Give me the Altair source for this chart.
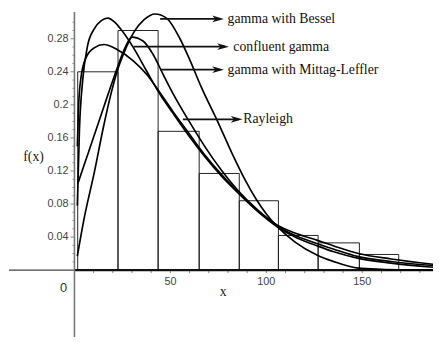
import altair as alt
import pandas as pd

# ---------------- data ----------------
# histogram (bin edges along x, bar heights)
bin_left = [1.7, 22.7, 43.6, 65.0, 85.9, 106.3, 127.0, 148.5]
bin_right = [22.7, 43.6, 65.0, 85.9, 106.3, 127.0, 148.5, 169.0]
bin_height = [0.240, 0.290, 0.168, 0.117, 0.084, 0.042, 0.033, 0.019]

# gamma with Bessel (tall early peak)
bessel_x = [1.5, 2.6, 4.3, 6.8, 10.3, 14.0, 17.4, 21.0, 24.0, 30.8, 37.6, 44.5, 51.3,
            59.8, 68.4, 76.9, 85.0, 95.0, 106.0, 116.0, 126.6, 135.2, 148.0, 165.0, 187.0]
bessel_y = [0.078, 0.170, 0.230, 0.271, 0.292, 0.302, 0.305, 0.300, 0.292, 0.269, 0.241,
            0.213, 0.190, 0.162, 0.136, 0.113, 0.094, 0.072, 0.052, 0.039, 0.0293, 0.0222,
            0.0143, 0.0085, 0.0035]

# gamma with Mittag-Leffler (lower early peak)
mittag_x = [1.5, 2.2, 3.4, 6.0, 10.3, 15.4, 22.2, 30.8, 37.6, 44.5, 51.3, 59.8, 68.4,
            76.9, 85.0, 95.0, 106.0, 116.0, 126.6, 135.2, 148.0, 165.0, 187.0]
mittag_y = [0.150, 0.200, 0.233, 0.257, 0.269, 0.273, 0.267, 0.253, 0.237, 0.215, 0.192,
            0.165, 0.138, 0.115, 0.095, 0.073, 0.053, 0.041, 0.032, 0.0253, 0.0163,
            0.0105, 0.0056]

# confluent gamma
confluent_x = [1.8, 5.0, 10.0, 15.5, 22.2, 25.6, 29.9, 35.9, 41.0, 46.2, 51.3, 59.8, 68.4,
               76.9, 85.0, 95.0, 106.0, 116.0, 126.6, 135.2, 148.0, 165.0, 187.0]
confluent_y = [0.105, 0.127, 0.161, 0.199, 0.244, 0.265, 0.282, 0.277, 0.261, 0.237, 0.214,
               0.180, 0.148, 0.120, 0.097, 0.074, 0.054, 0.044, 0.036, 0.0293, 0.0202,
               0.0135, 0.0071]

# Rayleigh
rayleigh_x = [1.5, 5.0, 10.6, 15.0, 19.0, 22.6, 26.0, 31.0, 36.3, 42.0, 48.0, 55.0, 60.0,
              66.0, 75.0, 82.0, 89.0, 94.4, 100.0, 106.0, 115.0, 126.6, 135.2, 148.0,
              160.0, 175.0, 187.0]
rayleigh_y = [0.017, 0.062, 0.121, 0.172, 0.213, 0.243, 0.264, 0.288, 0.303, 0.310, 0.305,
              0.280, 0.255, 0.222, 0.178, 0.142, 0.109, 0.087, 0.068, 0.052, 0.034, 0.018,
              0.0103, 0.0024, 0.001, 0.0003, 0.0]

# annotations
ann_labels = ["gamma with Bessel", "confluent gamma", "gamma with Mittag-Leffler", "Rayleigh"]
ann_y = [0.304, 0.2704, 0.2426, 0.1825]
ann_start = [44.65, 30.84, 44.65, 56.5]
ann_tip = [77.9, 80.5, 77.9, 87.6]
ann_text_x = [79.8, 82.8, 79.8, 88.0]

# axis ticks
y_ticks = [0.04, 0.08, 0.12, 0.16, 0.2, 0.24, 0.28]
y_tick_labels = ["0.04", "0.08", "0.12", "0.16", "0.2", "0.24", "0.28"]
x_ticks = [50, 100, 150]
x_tick_labels = ["50", "100", "150"]

# ---------------- scales ----------------
X_MIN, X_MAX = -34.63, 186.86
Y_MIN, Y_MAX = -0.0808, 0.3135
W, H = 433, 332
PX_X = W / (X_MAX - X_MIN)   # pixels per x unit
PX_Y = H / (Y_MAX - Y_MIN)   # pixels per y unit

xs = alt.Scale(domain=[X_MIN, X_MAX], nice=False, zero=False)
ys = alt.Scale(domain=[Y_MIN, Y_MAX], nice=False, zero=False)


def X(f):
    return alt.X(f, type="quantitative", scale=xs, axis=None)


def Y(f):
    return alt.Y(f, type="quantitative", scale=ys, axis=None)


# ---------------- layers ----------------
bars_df = pd.DataFrame({"x0": bin_left, "x1": bin_right, "h": bin_height,
                        "z": [0.0] * len(bin_height)})
bars = alt.Chart(bars_df).mark_rect(fillOpacity=0, stroke="#222", strokeWidth=1).encode(
    x=X("x0"), x2="x1", y=Y("h"), y2="z")

rows = []
for name, cx, cy in [("gamma with Bessel", bessel_x, bessel_y),
                     ("gamma with Mittag-Leffler", mittag_x, mittag_y),
                     ("confluent gamma", confluent_x, confluent_y),
                     ("Rayleigh", rayleigh_x, rayleigh_y)]:
    for i, (a, b) in enumerate(zip(cx, cy)):
        rows.append({"name": name, "x": a, "y": b, "i": i})
curves_df = pd.DataFrame(rows)
curves = alt.Chart(curves_df).mark_line(
    color="black", strokeWidth=1.7, interpolate="monotone", clip=True).encode(
    x=X("x"), y=Y("y"), detail="name:N", order="i:Q")

# axis lines
axes_df = pd.DataFrame([
    {"x": X_MIN + 0.5, "x2": 0.0, "y": 0.0, "y2": 0.0, "w": 1.2, "c": "#444"},
    {"x": 0.0, "x2": X_MAX, "y": 0.0, "y2": 0.0, "w": 2.2, "c": "#111"},
    {"x": 0.0, "x2": 0.0, "y": Y_MIN, "y2": 0.3125, "w": 1.6, "c": "#777"},
])
axes = alt.Chart(axes_df).mark_rule().encode(
    x=X("x"), x2="x2", y=Y("y"), y2="y2",
    strokeWidth=alt.StrokeWidth("w:Q", scale=None),
    color=alt.Color("c:N", scale=None))

# tick marks
tick_rows = []
for v in y_ticks:
    tick_rows.append({"x": -4 / PX_X, "x2": 0.0, "y": v, "y2": v})
minor_y = [k / 100 for k in range(1, 31) if round(k / 100, 2) not in y_ticks]
for v in minor_y:
    tick_rows.append({"x": -2 / PX_X, "x2": 0.0, "y": v, "y2": v})
for v in range(10, 190, 10):
    tick_rows.append({"x": float(v), "x2": float(v), "y": 0.0, "y2": -3 / PX_Y})
ticks = alt.Chart(pd.DataFrame(tick_rows)).mark_rule(color="#888", strokeWidth=1).encode(
    x=X("x"), x2="x2", y=Y("y"), y2="y2")

ylab_df = pd.DataFrame({"x": [0.0] * len(y_ticks), "y": y_ticks, "t": y_tick_labels})
ylabels = alt.Chart(ylab_df).mark_text(
    align="right", baseline="middle", dx=-6, font="Liberation Sans", fontSize=11,
    color="#444").encode(x=X("x"), y=Y("y"), text="t:N")

xlab_df = pd.DataFrame({"x": x_ticks, "y": [0.0] * len(x_ticks), "t": x_tick_labels})
xlabels = alt.Chart(xlab_df).mark_text(
    align="center", baseline="middle", dy=12, font="Liberation Sans", fontSize=11,
    color="#444").encode(x=X("x"), y=Y("y"), text="t:N")

zero_df = pd.DataFrame({"x": [0.0], "y": [0.0], "t": ["0"]})
zero_lab = alt.Chart(zero_df).mark_text(
    align="center", baseline="middle", dx=-11, dy=18, font="Liberation Sans",
    fontSize=13, color="#333").encode(x=X("x"), y=Y("y"), text="t:N")

title_df = pd.DataFrame({"x": [77.5, -21.3], "y": [-0.026, 0.1366], "t": ["x", "f(x)"]})
titles = alt.Chart(title_df).mark_text(
    align="center", baseline="middle", font="Liberation Serif", fontSize=14,
    color="#222").encode(x=X("x"), y=Y("y"), text="t:N")

# annotation arrows
arr_df = pd.DataFrame({"label": ann_labels, "y": ann_y, "x0": ann_start,
                       "tip": ann_tip, "tx": ann_text_x,
                       "lend": [t - 4 / PX_X for t in ann_tip]})
arrow_lines = alt.Chart(arr_df).mark_rule(color="#111", strokeWidth=1.8).encode(
    x=X("x0"), x2="lend", y=Y("y"))
head_path = "M0,0L-2,-0.58L-1.45,0L-2,0.58Z"
arrow_heads = alt.Chart(arr_df).mark_point(
    shape=head_path, size=144, filled=True, color="#111", opacity=1, strokeWidth=0).encode(
    x=X("tip"), y=Y("y"))
arrow_text = alt.Chart(arr_df).mark_text(
    align="left", baseline="middle", font="Liberation Serif", fontSize=14,
    color="#111").encode(x=X("tx"), y=Y("y"), text="label:N")

chart = alt.layer(
    bars, ticks, axes, curves, ylabels, xlabels, zero_lab, titles,
    arrow_lines, arrow_heads, arrow_text
).properties(
    width=W, height=H, padding=0,
    autosize=alt.AutoSizeParams(type="none"),
    background="white"
).configure_view(strokeWidth=0)

chart.save("out.html", embed_options={"renderer": "svg", "actions": False})
